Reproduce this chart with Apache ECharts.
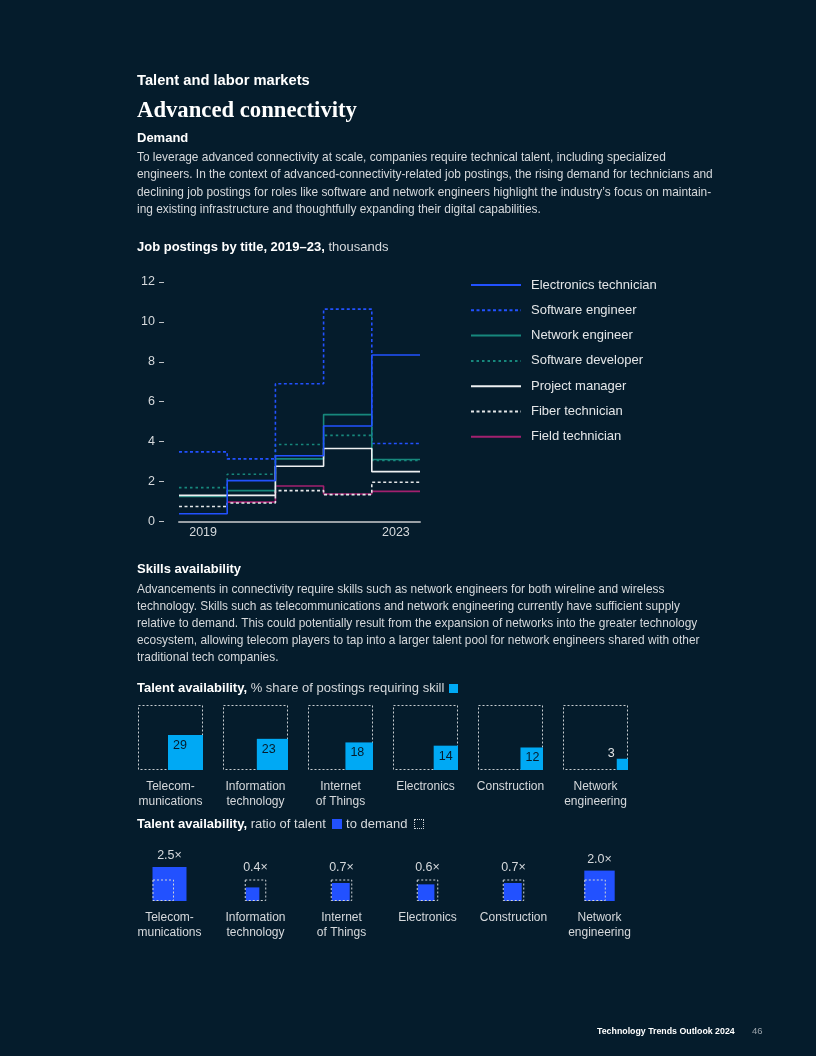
<!DOCTYPE html>
<html><head><meta charset="utf-8">
<script src="https://cdn.jsdelivr.net/npm/echarts@6/dist/echarts.min.js"></script>
<style>
html,body{margin:0;padding:0;background:#051c2c;width:816px;height:1056px;overflow:hidden;}
#chart{position:absolute;left:0;top:0;width:816px;height:1056px;}
.t{position:absolute;left:137px;color:#ffffff;font-family:'Liberation Sans',Arial,sans-serif;white-space:nowrap;}
.h1{top:70px;font-size:14.7px;line-height:20px;font-weight:bold;}
.h2{top:96px;font-family:'Liberation Serif',serif;font-size:22.7px;line-height:28px;font-weight:bold;}
.h3{font-size:13px;line-height:18px;font-weight:bold;}
.p{font-size:11.9px;color:#d6d9dc;}
.n{font-weight:normal;color:#d6d9dc;}
.sq{display:inline-block;width:9px;height:9px;vertical-align:-1px;margin-left:3px;}
.foot{position:absolute;top:1024px;font-family:'Liberation Sans',Arial,sans-serif;font-size:8.8px;line-height:14px;}
</style></head>
<body>
<div id="chart"></div>
<div class="t h1">Talent and labor markets</div>
<div class="t h2">Advanced connectivity</div>
<div class="t h3" style="top:129px;">Demand</div>
<div class="t p" style="top:148.75px;line-height:17.5px;">To leverage advanced connectivity at scale, companies require technical talent, including specialized<br>engineers. In the context of advanced-connectivity-related job postings, the rising demand for technicians and<br>declining job postings for roles like software and network engineers highlight the industry’s focus on maintain-<br>ing existing infrastructure and thoughtfully expanding their digital capabilities.</div>
<div class="t h3" style="top:238px;">Job postings by title, 2019–23, <span class="n">thousands</span></div>
<div class="t h3" style="top:560px;">Skills availability</div>
<div class="t p" style="top:580.5px;line-height:17px;">Advancements in connectivity require skills such as network engineers for both wireline and wireless<br>technology. Skills such as telecommunications and network engineering currently have sufficient supply<br>relative to demand. This could potentially result from the expansion of networks into the greater technology<br>ecosystem, allowing telecom players to tap into a larger talent pool for network engineers shared with other<br>traditional tech companies.</div>
<div class="t h3" style="top:679px;">Talent availability, <span class="n">% share of postings requiring skill</span><span class="sq" style="background:#00a9f4;margin-left:5px;"></span></div>
<div class="t h3" style="top:815px;">Talent availability, <span class="n">ratio of talent <span class="sq" style="background:#2251ff;width:10px;height:10px;"></span> to demand <span class="sq" style="border:1px dotted #d0d4d8;width:10px;height:10px;box-sizing:border-box;"></span></span></div>
<div class="foot" style="left:597px;color:#fff;font-weight:bold;">Technology Trends Outlook 2024</div>
<div class="foot" style="left:752px;color:#9aa3ab;font-size:9.5px;">46</div>
<script>
// ---- Job postings by title, 2019–23 (thousands) ----
const years = ['2019', '2020', '2021', '2022', '2023'];
const electronicsTechnician = [0.38, 2.04, 3.29, 4.78, 8.34];
const softwareEngineer = [3.48, 3.13, 6.90, 10.64, 3.90];
const networkEngineer = [1.24, 1.54, 3.13, 5.35, 3.10];
const softwareDeveloper = [1.69, 2.36, 3.85, 4.31, 3.05];
const projectManager = [1.30, 1.30, 2.76, 3.65, 2.49];
const fiberTechnician = [0.74, 0.92, 1.54, 1.34, 1.96];
const fieldTechnician = [null, 0.96, 1.77, 1.37, 1.50];
const yTicks = [0, 2, 4, 6, 8, 10, 12];
const shownYears = ['2019', '2023'];

// ---- Talent availability ----
const skills = ['Telecom-\nmunications', 'Information\ntechnology', 'Internet\nof Things', 'Electronics', 'Construction', 'Network\nengineering'];
const shareOfPostings = [29, 23, 18, 14, 12, 3];
const talentToDemand = [2.5, 0.4, 0.7, 0.6, 0.7, 2.0];

const chart = echarts.init(document.getElementById('chart'), null, {renderer: 'canvas'});
const FONT = "'Liberation Sans', Arial, sans-serif";
const txt = '#d6d9dc';

function stepData(vals) {
  const d = vals.map((v, i) => [i, v]);
  d.push([vals.length, vals[vals.length - 1]]);
  return d;
}
function lineSeries(name, vals, color, type, z) {
  return {
    name, type: 'line', xAxisIndex: 0, yAxisIndex: 0, step: 'end', symbol: 'none',
    data: stepData(vals), z: z || 2,
    lineStyle: {color, width: 1.6, type: type || 'solid'},
    itemStyle: {color},
    emphasis: {disabled: true}
  };
}

const yearLabelAt = {};
years.forEach((y, i) => { yearLabelAt[(i + 0.5).toFixed(1)] = y; });
function yearLabel(v) {
  const y = yearLabelAt[v.toFixed(1)];
  return shownYears.indexOf(y) >= 0 ? y : '';
}

const option = {
  animation: false,
  textStyle: {fontFamily: FONT},
  legend: {
    left: 470, top: 278.5, orient: 'vertical', itemWidth: 50, itemHeight: 14, itemGap: 12.3,
    padding: 0, selectedMode: false,
    itemStyle: {opacity: 0, borderWidth: 0},
    textStyle: {color: '#e4e6e8', fontSize: 13, fontFamily: FONT, padding: [0, 0, 0, 5]},
    data: ['Electronics technician', 'Software engineer', 'Network engineer', 'Software developer', 'Project manager', 'Fiber technician', 'Field technician']
  },
  grid: [
    {left: 179, top: 282, width: 241, height: 239.3},
    {left: 128, top: 705, width: 510, height: 65},
    {left: 126.5, top: 858, width: 516, height: 43},
    {left: 164, top: 282, width: 1, height: 239.3}
  ],
  xAxis: [
    {
      gridIndex: 0, type: 'value', min: 0, max: years.length, interval: 0.5,
      axisLine: {show: true, lineStyle: {color: '#9aa0a6', width: 2}},
      axisTick: {show: false}, splitLine: {show: false},
      axisLabel: {color: txt, fontSize: 12.5, margin: 5, showMinLabel: true, showMaxLabel: true, formatter: yearLabel}
    },
    {
      gridIndex: 1, type: 'category', data: skills,
      axisLine: {show: false}, axisTick: {show: false},
      axisLabel: {color: txt, fontSize: 12, lineHeight: 15, margin: 9, interval: 0}
    },
    {
      gridIndex: 2, type: 'category', data: skills,
      axisLine: {show: false}, axisTick: {show: false},
      axisLabel: {color: txt, fontSize: 12, lineHeight: 15, margin: 9, interval: 0}
    },
    {gridIndex: 3, type: 'value', min: 0, max: 1, show: false}
  ],
  yAxis: [
    {gridIndex: 0, type: 'value', min: yTicks[0], max: yTicks[yTicks.length - 1], show: false},
    {gridIndex: 1, type: 'value', min: 0, max: 10, show: false},
    {gridIndex: 2, type: 'value', min: 0, max: 2, show: false},
    {
      gridIndex: 3, type: 'value', min: yTicks[0], max: yTicks[yTicks.length - 1], interval: yTicks[1] - yTicks[0],
      axisLine: {show: false},
      axisTick: {show: true, length: 5, lineStyle: {color: '#c0c4c8', width: 1}},
      splitLine: {show: false},
      axisLabel: {color: txt, fontSize: 12.5, margin: 9}
    }
  ],
  series: [
    lineSeries('Electronics technician', electronicsTechnician, '#2251ff', 'solid', 4),
    lineSeries('Software engineer', softwareEngineer, '#2251ff', [3, 2.5], 3),
    lineSeries('Network engineer', networkEngineer, '#17877c', 'solid', 3),
    lineSeries('Software developer', softwareDeveloper, '#17877c', [2.5, 3], 2),
    lineSeries('Project manager', projectManager, '#eef0f2', 'solid', 3),
    lineSeries('Fiber technician', fiberTechnician, '#e4e6e8', [3, 2.5], 3),
    lineSeries('Field technician', fieldTechnician, '#a3206f', 'solid', 2),
    {
      type: 'custom', xAxisIndex: 1, yAxisIndex: 1,
      data: shareOfPostings.map((v, i) => [i, v]),
      renderItem: (params, api) => {
        const i = api.value(0), v = api.value(1);
        const base = api.coord([i, 0]);
        const full = api.size([0, 10])[1];
        const side = api.size([0, Math.sqrt(v)])[1];
        const left = base[0] - full / 2, top = base[1] - full;
        const sx = left + full - side, sy = base[1] - side;
        const small = side < 16;
        return {
          type: 'group',
          children: [
            {type: 'rect', shape: {x: left + 0.5, y: top + 0.5, width: full - 1, height: full - 1},
             style: {fill: 'none', stroke: '#c8ccd0', lineWidth: 1, lineDash: [2, 2]}},
            {type: 'rect', shape: {x: sx, y: sy, width: side, height: side}, style: {fill: '#00a9f4'}},
            {type: 'text', x: small ? sx - 2 : sx + 5, y: small ? sy + 1 : sy + 4,
             style: {text: String(v), fill: small ? '#e4e6e8' : '#051c2c', fontSize: 12.5, fontFamily: FONT,
                     align: small ? 'right' : 'left', verticalAlign: small ? 'bottom' : 'top'}}
          ]
        };
      }
    },
    {
      type: 'custom', xAxisIndex: 2, yAxisIndex: 2,
      data: talentToDemand.map((v, i) => [i, v]),
      renderItem: (params, api) => {
        const i = api.value(0), r = api.value(1);
        const base = api.coord([i, 0]);
        const dem = api.size([0, 1])[1];
        const tal = api.size([0, Math.sqrt(r)])[1];
        const m = Math.max(dem, tal);
        const left = base[0] - m / 2;
        return {
          type: 'group',
          children: [
            {type: 'rect', shape: {x: left + (tal < dem ? 1 : 0), y: base[1] - tal, width: tal, height: tal}, style: {fill: '#2251ff'}},
            {type: 'rect', shape: {x: left + 0.5, y: base[1] - dem + 0.5, width: dem - 1, height: dem - 1},
             style: {fill: 'none', stroke: '#d0d4d8', lineWidth: 1, lineDash: [2, 2]}},
            {type: 'text', x: base[0], y: base[1] - m - 5,
             style: {text: r.toFixed(1) + '×', fill: txt, fontSize: 12.5, fontFamily: FONT, align: 'center', verticalAlign: 'bottom'}}
          ]
        };
      }
    }
  ]
};
chart.setOption(option);
</script>
</body></html>
